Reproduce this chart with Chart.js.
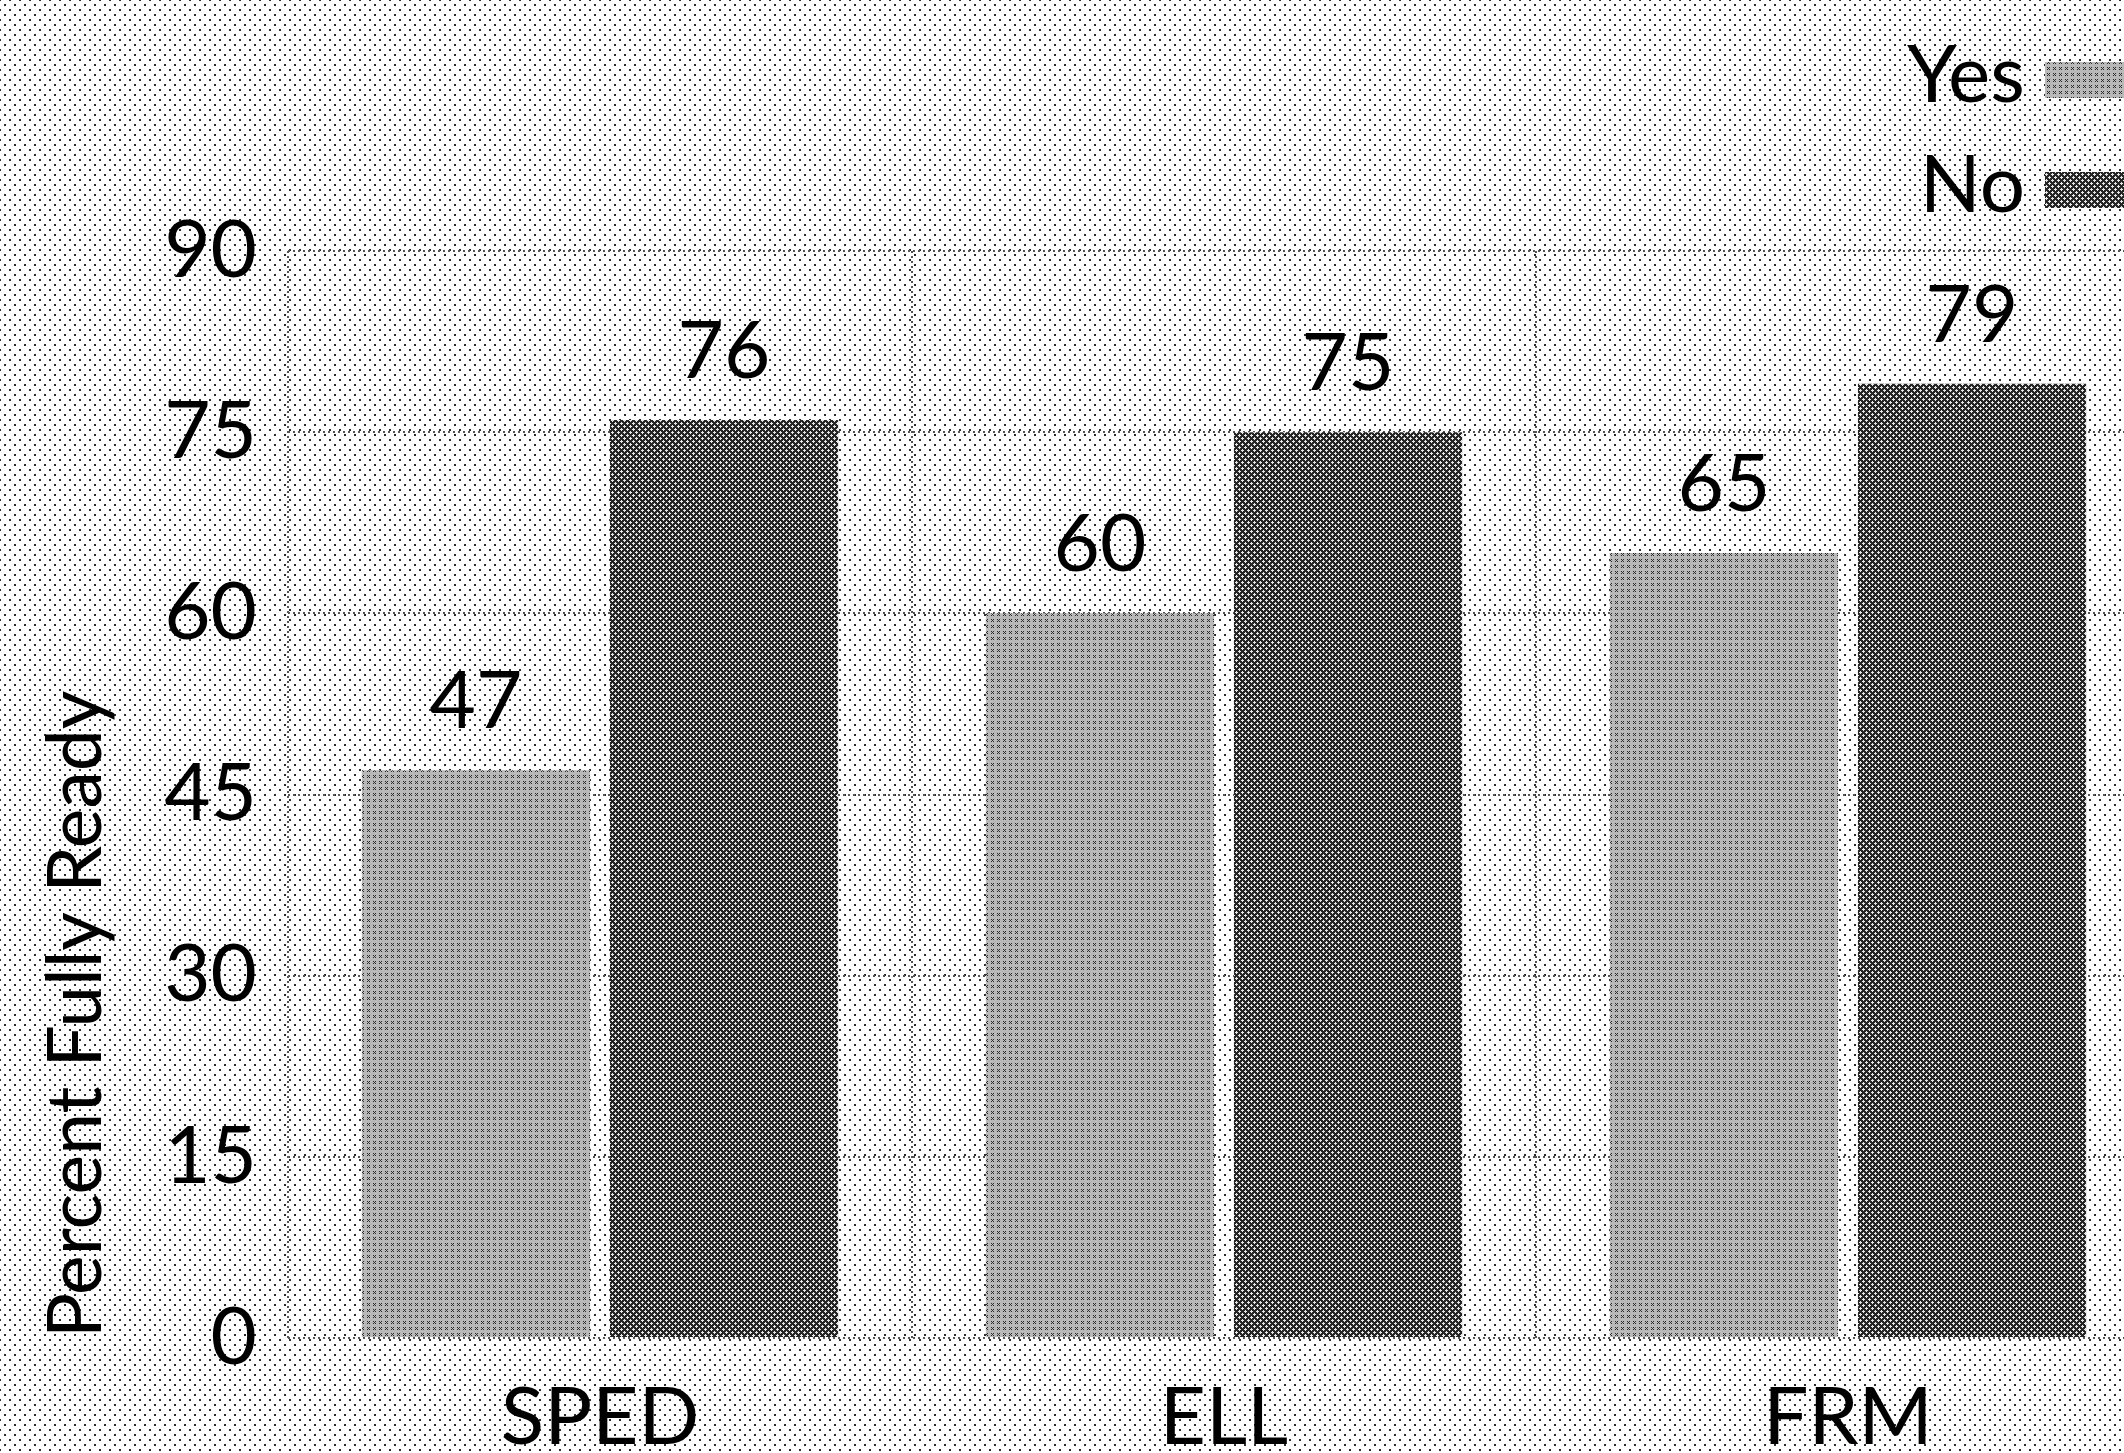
<!DOCTYPE html>
<html>
<head>
<meta charset="utf-8">
<title>Percent Fully Ready</title>
<script src="https://cdn.jsdelivr.net/npm/chart.js@4/dist/chart.umd.min.js"></script>
<style>
  html, body { margin: 0; padding: 0; overflow: hidden; }
  body {
    width: 2124px;
    height: 1453px;
    background-color: #fff;
    /* halftone dot screen behind everything */
    background-image:
      radial-gradient(circle, #2b2b2b 0.8px, transparent 1.4px),
      radial-gradient(circle, #2b2b2b 0.8px, transparent 1.4px);
    background-size: 10px 10px;
    background-position: 0 0, 5px 5px;
  }
  canvas { display: block; }
</style>
</head>
<body>
<canvas id="readyChart" width="2160" height="1453"></canvas>
<script>
var groups = ['SPED', 'ELL', 'FRM'];
var seriesNames = ['Yes', 'No'];
var yesValues = [47, 60, 65];
var noValues = [76, 75, 79];
var yMax = 90;
var yStep = 15;

var fontFamily = 'Lato';
var fontSize = 80;

// small pixel tiles used as screened fills
function makePattern(size, base, ink, cells) {
    var c = document.createElement('canvas');
    c.width = size;
    c.height = size;
    var g = c.getContext('2d');
    g.fillStyle = base;
    g.fillRect(0, 0, size, size);
    g.fillStyle = ink;
    cells.forEach(function (p) {
        g.fillRect(p[0], p[1], 1, 1);
    });
    return g.createPattern(c, 'repeat');
}

var lightFill = makePattern(6, '#b8b8b8', '#2c2c2c',
    [[1, 1], [3, 1], [2, 2], [1, 3], [3, 3]]);
var darkFill = makePattern(6, '#262626', '#e6e6e6',
    [[3, 2], [2, 3], [3, 3], [4, 3], [3, 4], [0, 0], [1, 0], [5, 0], [0, 1], [0, 5]]);

Chart.defaults.font.family = fontFamily;
Chart.defaults.color = '#000';

var barValueLabels = {
    id: 'barValueLabels',
    afterDatasetsDraw: function (chart) {
        var ctx = chart.ctx;
        ctx.save();
        ctx.font = fontSize + 'px ' + fontFamily;
        ctx.fillStyle = '#000';
        ctx.textAlign = 'center';
        ctx.textBaseline = 'alphabetic';
        chart.data.datasets.forEach(function (ds, i) {
            chart.getDatasetMeta(i).data.forEach(function (bar, j) {
                ctx.fillText(ds.data[j], bar.x, bar.y - 42);
            });
        });
        ctx.restore();
    }
};

// legend in the top right corner: label first, swatch after it
var cornerLegend = {
    id: 'cornerLegend',
    afterDraw: function (chart) {
        var ctx = chart.ctx;
        ctx.save();
        ctx.font = fontSize + 'px ' + fontFamily;
        ctx.textAlign = 'right';
        ctx.textBaseline = 'alphabetic';
        chart.data.datasets.forEach(function (ds, i) {
            var baseline = 102 + i * 110;
            ctx.fillStyle = '#000';
            ctx.fillText(ds.label, 2025, baseline);
            ctx.fillStyle = ds.backgroundColor;
            ctx.fillRect(2045, baseline - 40, 120, 36);
        });
        ctx.restore();
    }
};

// dotted rules, the edge lines included
var gridStyle = {
    color: '#555',
    lineWidth: 2,
    drawTicks: false
};
var edgeStyle = { display: false, dash: [2, 3] };

var readyChart = new Chart(document.getElementById('readyChart').getContext('2d'), {
    type: 'bar',
    data: {
        labels: groups,
        datasets: [{
            label: seriesNames[0],
            data: yesValues,
            backgroundColor: lightFill,
            borderWidth: 0
        }, {
            label: seriesNames[1],
            data: noValues,
            backgroundColor: darkFill,
            borderWidth: 0
        }]
    },

    plugins: [barValueLabels, cornerLegend],

    options: {
        responsive: false,
        animation: false,
        categoryPercentage: 0.795,
        barPercentage: 0.92,
        layout: {
            padding: { top: 251, right: 0, bottom: 0, left: 0 }
        },
        scales: {
            x: {
                grid: gridStyle,
                border: edgeStyle,
                ticks: {
                    padding: 32,
                    font: { size: fontSize }
                },
                afterFit: function (scale) {
                    scale.height = 115;
                }
            },
            y: {
                min: 0,
                max: yMax,
                grid: gridStyle,
                border: edgeStyle,
                ticks: {
                    stepSize: yStep,
                    padding: 31,
                    font: { size: fontSize }
                },
                title: {
                    display: true,
                    text: 'Percent Fully Ready',
                    align: 'start',
                    font: { size: 75 },
                    padding: { top: 32, bottom: 0 }
                },
                afterFit: function (scale) {
                    scale.width = 288;
                }
            }
        },
        plugins: {
            legend: { display: false },
            tooltip: { enabled: false }
        }
    }
});
</script>
</body>
</html>
